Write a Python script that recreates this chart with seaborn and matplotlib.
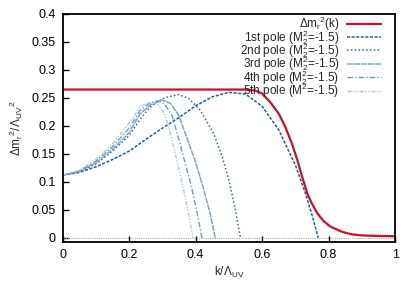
import matplotlib
matplotlib.use("Agg")
import matplotlib.pyplot as plt
import seaborn as sns

# curvas
k_red = [0, 0.55, 0.58, 0.6, 0.625, 0.65, 0.67, 0.69, 0.706, 0.72, 0.736, 0.75,
         0.766, 0.785, 0.806, 0.84, 0.867, 0.9, 0.95, 1.0]
v_red = [0.265, 0.265, 0.263, 0.258, 0.242, 0.222, 0.198, 0.168, 0.139, 0.110,
         0.079, 0.061, 0.044, 0.030, 0.020, 0.011, 0.0066, 0.0045, 0.0035, 0.003]

k1 = [0, 0.05, 0.1, 0.15, 0.2, 0.25, 0.3, 0.35, 0.4, 0.45, 0.5, 0.55, 0.6, 0.65,
      0.7, 0.73, 0.75, 0.769]
v1 = [0.112, 0.117, 0.127, 0.140, 0.155, 0.176, 0.196, 0.215, 0.236, 0.252, 0.260,
      0.257, 0.235, 0.193, 0.130, 0.080, 0.041, 0.0]

k2 = [0, 0.05, 0.1, 0.15, 0.2, 0.233, 0.26, 0.284, 0.31, 0.349, 0.38, 0.414, 0.454,
      0.48, 0.50, 0.518, 0.535]
v2 = [0.112, 0.118, 0.132, 0.155, 0.183, 0.212, 0.232, 0.243, 0.251, 0.256, 0.249,
      0.228, 0.187, 0.145, 0.103, 0.055, 0.0]

k3 = [0, 0.05, 0.1, 0.15, 0.2, 0.233, 0.265, 0.30, 0.325, 0.349, 0.374, 0.40, 0.425,
      0.443, 0.459]
v3 = [0.112, 0.119, 0.134, 0.158, 0.188, 0.222, 0.238, 0.246, 0.240, 0.219, 0.178,
      0.135, 0.085, 0.045, 0.0]

k4 = [0, 0.05, 0.1, 0.15, 0.2, 0.233, 0.26, 0.285, 0.305, 0.329, 0.349, 0.368, 0.388,
      0.404, 0.419]
v4 = [0.112, 0.120, 0.137, 0.163, 0.196, 0.228, 0.240, 0.245, 0.240, 0.219, 0.177,
      0.135, 0.090, 0.046, 0.0]

k5 = [0, 0.05, 0.1, 0.15, 0.2, 0.233, 0.255, 0.27, 0.29, 0.309, 0.329, 0.345, 0.364,
      0.378, 0.392]
v5 = [0.112, 0.121, 0.140, 0.168, 0.205, 0.234, 0.241, 0.243, 0.236, 0.219, 0.175,
      0.135, 0.085, 0.045, 0.0]

etiquetas = [r'$\Delta$m$_r$$^2$(k)',
             '1st pole (M$_2^2$=-1.5)',
             '2nd pole (M$_2^2$=-1.5)',
             '3rd pole (M$_2^2$=-1.5)',
             '4th pole (M$_2^2$=-1.5)',
             '5th pole (M$^2$=-1.5)']

sns.set_style("ticks")
plt.rcParams['font.family'] = ['Liberation Sans', 'DejaVu Sans']
plt.rcParams['mathtext.default'] = 'regular'
plt.rcParams['font.size'] = 9

fig = plt.figure(figsize=(4.15, 2.91), dpi=100)
ax = fig.add_axes([0.151, 0.169, 0.801, 0.783])

ax.axhline(0, color='#aaaaaa', lw=0.8, ls=(0, (1, 1)), zorder=1)

sns.lineplot(x=k_red, y=v_red, ax=ax, color='#c8102e', lw=1.6, label=etiquetas[0])
sns.lineplot(x=k1, y=v1, ax=ax, color='#1f5fa6', lw=1.1, ls=(0, (2, 1)), label=etiquetas[1])
sns.lineplot(x=k2, y=v2, ax=ax, color='#2f6cb0', lw=1.1, ls=(0, (1, 1.5)), label=etiquetas[2])
sns.lineplot(x=k3, y=v3, ax=ax, color='#7fa6cf', lw=1.1, ls=(0, (4, 0.6)), label=etiquetas[3])
sns.lineplot(x=k4, y=v4, ax=ax, color='#6f9bc9', lw=1.0, ls=(0, (4, 1.5, 1, 1.5)), label=etiquetas[4])
sns.lineplot(x=k5, y=v5, ax=ax, color='#aac6e4', lw=1.0, ls=(0, (3, 1.2, 1, 1.2, 1, 1.2)), label=etiquetas[5])

ax.set_xlim(0, 1)
ax.set_ylim(-0.007, 0.4)
ax.set_xticks([0, 0.2, 0.4, 0.6, 0.8, 1])
ax.set_xticklabels(['0', '0.2', '0.4', '0.6', '0.8', '1'])
ax.set_yticks([0, 0.05, 0.1, 0.15, 0.2, 0.25, 0.3, 0.35, 0.4])
ax.set_yticklabels(['0', '0.05', '0.1', '0.15', '0.2', '0.25', '0.3', '0.35', '0.4'])
ax.tick_params(direction='in', length=4, width=1, pad=5, labelsize=9, colors='black')
for s in ax.spines.values():
    s.set_linewidth(1.3)
    s.set_color('black')

ax.set_xlabel(r'k/$\Lambda_{UV}$', fontsize=8.5, labelpad=3)
ax.set_ylabel(r'$\Delta$m$_r$$^2$/$\Lambda_{UV}$$^2$', fontsize=8.5, labelpad=5)

ley = ax.legend(loc='upper right', bbox_to_anchor=(0.957, 0.995), frameon=False,
                markerfirst=False, fontsize=8.5, handlelength=2.9, handletextpad=0.6,
                labelspacing=-0.45, borderpad=0, borderaxespad=0)

fig.savefig('out.png', dpi=100)
